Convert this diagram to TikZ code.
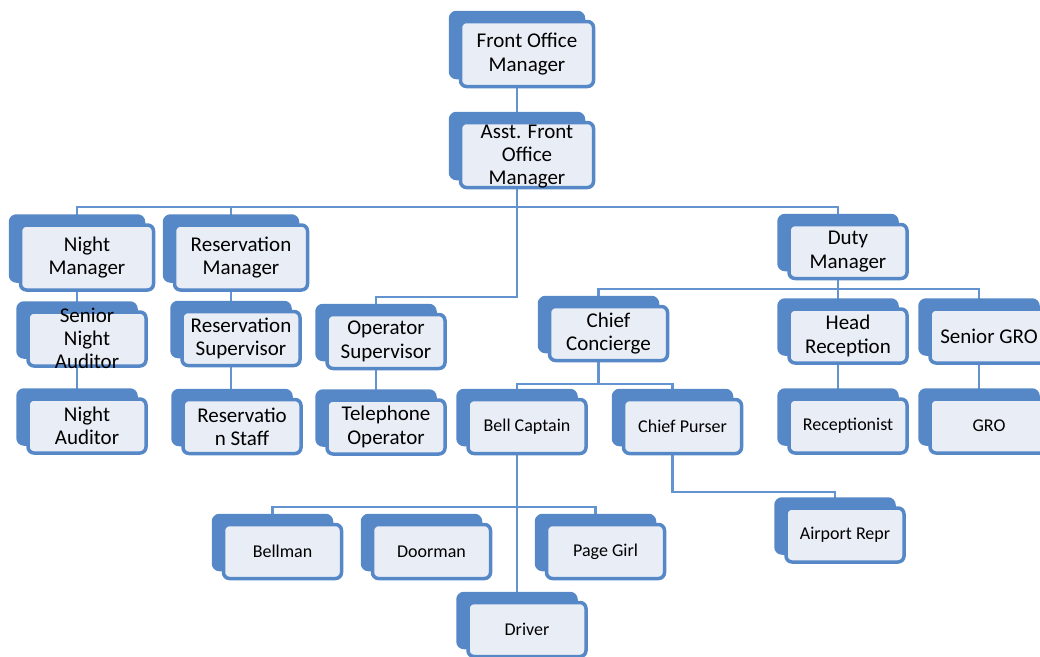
\documentclass[tikz,border=0pt]{standalone}
\usepackage{fontspec}
\setmainfont{Carlito}
\usetikzlibrary{positioning, shadows, backgrounds}
\definecolor{boxblue}{RGB}{86,135,198}
\definecolor{boxfill}{RGB}{233,238,246}
\definecolor{linkblue}{RGB}{100,148,208}
\newcommand{\packed}[1]{\raisebox{-7pt}[0pt][0pt]{\begin{tabular}{@{}c@{}}#1\end{tabular}}}
\tikzset{
  orgbox/.style = {
    shape = rectangle,
    draw = boxblue,
    line width = 3.5pt,
    fill = boxfill,
    rounded corners = 6pt,
    align = center,
    inner sep = 0pt,
    copy shadow = {shadow xshift = -10pt, shadow yshift = 9pt,
      fill = boxblue, draw = boxblue, line width = 3.5pt},
  }
}
\tikzset{
  tallbox/.style = {orgbox, minimum width = 133pt, minimum height = 65pt,
    font = \fontsize{21}{23.3}\selectfont},
  flatbox/.style = {orgbox, minimum width = 118pt, minimum height = 54pt,
    font = \fontsize{21}{23.3}\selectfont},
  flatboxsm/.style = {flatbox, font = \fontsize{18}{21}\selectfont},
  link/.style = {draw = linkblue, line width = 2.3pt},
}

\begin{document}
\begin{tikzpicture}[x=1pt, y=-1pt]
  \useasboundingbox (0,0) rectangle (1040,656);
  \node[tallbox](fom) at (527,54){Front Office\\Manager};
  \node[tallbox](afom) at (527,155){\packed{Asst. Front\\Office\\Manager}};
  \node[tallbox](nm) at (87,257.5){Night\\Manager};
  \node[tallbox](rm) at (241,257.5){Reservation\\Manager};
  \node[flatbox](sna) at (87,339){\packed{Senior\\Night\\Auditor}};
  \node[flatbox](na) at (87,426){Night\\Auditor};
  \node[flatbox](rs) at (241,338.5){Reservation\\Supervisor};
  \node[flatbox](rst) at (242,426.5){Reservatio\\n Staff};
  \node[flatbox](os) at (386,341.5){Operator\\Supervisor};
  \node[flatbox](tel) at (386,427){Telephone\\Operator};
  \node[flatbox](dm) at (848,251.5){Duty\\Manager};
  \node[flatbox](cc) at (608.5,333.5){Chief\\Concierge};
  \node[flatbox](hr) at (848,336){Head\\Reception};
  \node[flatbox](sgro) at (989,336){Senior GRO};
  \node[flatboxsm](bc) at (527,426.5){Bell Captain};
  \node[flatboxsm](cp) at (682.5,426.5){Chief Purser};
  \node[flatboxsm](rec) at (848,426){Receptionist};
  \node[flatboxsm](gro) at (989,426){GRO};
  \node[flatboxsm](bell) at (282.5,551.5){Bellman};
  \node[flatboxsm](door) at (431.5,551.5){Doorman};
  \node[flatboxsm](page) at (605.5,551.5){Page Girl};
  \node[flatboxsm](drv) at (527,629.5){Driver};
  \node[flatboxsm](ap) at (845,535){Airport Repr};
  % connectors behind the boxes
  \begin{scope}[on background layer]
    \coordinate (top bus) at (517,207);
    \coordinate (os bus) at (450,297);
    \coordinate (duty bus) at (838,289);
    \coordinate (cc bus) at (600,384);
    \coordinate (bell bus) at (517,507);
    \coordinate (ap bus) at (750,492);
    \draw[link]([xshift=-10pt]fom.south) -- ([xshift=-10pt]afom.north);
    \draw[link]([xshift=-10pt]nm.north) |- (top bus) -| ([xshift=-10pt]dm.north);
    \draw[link]([xshift=-10pt]rm.north) |- (top bus);
    \draw[link]([xshift=-10pt]afom.south) |- (os bus) -| ([xshift=-10pt]os.north);
    \draw[link]([xshift=-10pt]nm.south) -- ([xshift=-10pt]sna.north);
    \draw[link]([xshift=-10pt]sna.south) -- ([xshift=-10pt]na.north);
    \draw[link]([xshift=-10pt]rm.south) -- ([xshift=-10pt]rs.north);
    \draw[link]([xshift=-10pt]rs.south) -- ([xshift=-10pt]rs.south |- rst.north);
    \draw[link]([xshift=-10pt]os.south) -- ([xshift=-10pt]tel.north);
    \draw[link]([xshift=-10pt]dm.south) -- ([xshift=-10pt]hr.north);
    \draw[link]([xshift=-10pt]cc.north) |- (duty bus) -| ([xshift=-10pt]sgro.north);
    \draw[link]([xshift=-10pt]hr.south) -- ([xshift=-10pt]rec.north);
    \draw[link]([xshift=-10pt]sgro.south) -- ([xshift=-10pt]gro.north);
    \draw[link]([xshift=-10pt]cc.south) -- ([xshift=-10pt]cc.south |- cc bus);
    \draw[link]([xshift=-10pt]bc.north) |- (cc bus) -| ([xshift=-10pt]cp.north);
    \draw[link]([xshift=-10pt]bc.south) -- ([xshift=-10pt]drv.north);
    \draw[link]([xshift=-10pt]bell.north) |- (bell bus) -| ([xshift=-10pt]page.north);
    \draw[link]([xshift=-10pt]cp.south) |- (ap bus) -| ([xshift=-10pt]ap.north);
  \end{scope}
\end{tikzpicture}
\end{document}
